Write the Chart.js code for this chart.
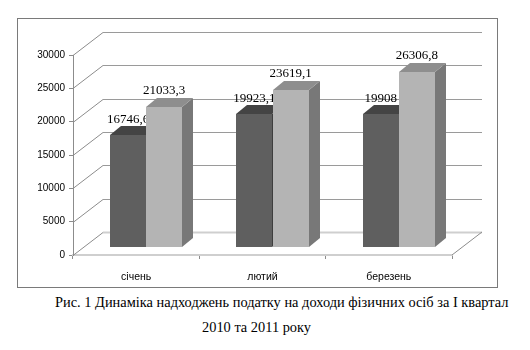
<!DOCTYPE html>
<html>
<head>
<meta charset="utf-8">
<script src="https://cdn.jsdelivr.net/npm/chart.js@4.4.1/dist/chart.umd.min.js"></script>
<style>
  body { margin: 0; background: #fff; width: 530px; height: 350px; position: relative; overflow: hidden; }
  #box { position: absolute; left: 17px; top: 18px; width: 479px; height: 268px; border: 1px solid #7a7a7a; }
  #box canvas { display: block; }
  .cap { position: absolute; font-family: "Liberation Serif", "Times New Roman", serif; font-size: 14.4px; color: #000; white-space: nowrap; }
</style>
</head>
<body>
<div id="box"><canvas id="chart" width="479" height="268"></canvas></div>
<div class="cap" style="left:55px; top:294px;">Рис. 1 Динаміка надходжень податку на доходи фізичних осіб за І квартал</div>
<div class="cap" style="left:202px; top:319px;">2010 та 2011 року</div>
<script>
// --- ДАНІ ---
const months = ['січень', 'лютий', 'березень'];
const values2010 = [16746.6, 19923.1, 19908];
const values2011 = [21033.3, 23619.1, 26306.8];
const yTicks = { min: 0, max: 30000, step: 5000 };

// --- 3D ОФОРМЛЕННЯ ---
const wallDepth = { dx: 30, dy: -23 };  // глибина стінок
const barShift = { dx: 10, dy: -8 };    // зсув передньої грані стовпчиків
const barDepth = { dx: 11, dy: -9 };    // товщина стовпчика
const faces = [
    { front: '#5f5f5f', top: '#444444', side: '#3e3e3e' },
    { front: '#b4b4b4', top: '#8e8e8e', side: '#787878' }
];

function fmt(v) {
    return String(v).replace('.', ',');
}

function poly(ctx, pts, color) {
    ctx.beginPath();
    ctx.moveTo(pts[0][0], pts[0][1]);
    for (let i = 1; i < pts.length; i++) ctx.lineTo(pts[i][0], pts[i][1]);
    ctx.closePath();
    ctx.fillStyle = color;
    ctx.fill();
}

function line(ctx, x0, y0, x1, y1, color, w) {
    ctx.beginPath();
    ctx.moveTo(x0, y0);
    ctx.lineTo(x1, y1);
    ctx.strokeStyle = color;
    ctx.lineWidth = w || 1;
    ctx.stroke();
}

const walls3d = {
    id: 'walls3d',
    beforeDatasetsDraw(chart) {
        const { ctx, chartArea: a, scales: { y } } = chart;
        ctx.save();
        // бічна стінка та задня стінка з лініями сітки
        y.ticks.forEach(t => {
            const py = Math.round(y.getPixelForValue(t.value)) + 0.5;
            line(ctx, a.left, py, a.left + wallDepth.dx, py + wallDepth.dy, '#8c8c8c');
            if (t.value === 0) {
                line(ctx, a.left + wallDepth.dx, py + wallDepth.dy, a.right + wallDepth.dx, py + wallDepth.dy, '#cfcfcf', 2);
            } else {
                line(ctx, a.left + wallDepth.dx, py + wallDepth.dy, a.right + wallDepth.dx, py + wallDepth.dy, '#9a9a9a');
            }
        });
        // підлога: права грань
        line(ctx, a.right, a.bottom, a.right + wallDepth.dx, a.bottom + wallDepth.dy, '#8c8c8c');
        ctx.restore();
    },
    beforeDatasetDraw() {
        return false;
    },
    afterDatasetsDraw(chart) {
        const { ctx } = chart;
        ctx.save();
        chart.data.datasets.forEach((ds, d) => {
            const meta = chart.getDatasetMeta(d);
            const f = faces[d];
            // стовпчики
            meta.data.forEach(bar => {
                const w = bar.width;
                const x0 = Math.round(bar.x - w / 2 + barShift.dx);
                const x1 = Math.round(x0 + w);
                const yt = Math.round(bar.y + barShift.dy);
                const yb = Math.round(bar.base + barShift.dy);
                poly(ctx, [[x1, yt], [x1 + barDepth.dx, yt + barDepth.dy], [x1 + barDepth.dx, yb + barDepth.dy], [x1, yb]], f.side);
                poly(ctx, [[x0, yt], [x1, yt], [x1 + barDepth.dx, yt + barDepth.dy], [x0 + barDepth.dx, yt + barDepth.dy]], f.top);
                ctx.fillStyle = f.front;
                ctx.fillRect(x0, yt, x1 - x0, yb - yt);
            });
            // підписи значень
            ctx.font = '13px "Liberation Serif", "Times New Roman", serif';
            ctx.fillStyle = '#000';
            ctx.textAlign = 'center';
            ctx.textBaseline = 'middle';
            meta.data.forEach((bar, i) => {
                ctx.fillText(fmt(ds.data[i]), bar.x + barShift.dx, bar.y + barShift.dy - 16);
            });
        });
        ctx.restore();
    }
};

new Chart(document.getElementById('chart'), {
    type: 'bar',
    data: {
        labels: months,
        datasets: [
            { label: '2010', data: values2010, backgroundColor: faces[0].front, categoryPercentage: 0.57, barPercentage: 1 },
            { label: '2011', data: values2011, backgroundColor: faces[1].front, categoryPercentage: 0.57, barPercentage: 1 }
        ]
    },
    options: {
        responsive: false,
        devicePixelRatio: 1,
        animation: false,
        layout: { padding: { top: 36, right: 45, left: 0, bottom: 0 } },
        plugins: { legend: { display: false }, tooltip: { enabled: false } },
        scales: {
            x: {
                afterFit: s => { s.height = 32; },
                grid: { offset: true, drawOnChartArea: false, tickLength: 4, color: '#8c8c8c' },
                border: { display: true, color: '#cfcfcf', width: 2 },
                ticks: { color: '#000', padding: 12, font: { family: '"Liberation Sans", Arial, sans-serif', size: 10.5 } }
            },
            y: {
                min: yTicks.min,
                max: yTicks.max,
                afterFit: s => { s.width = 55; },
                grid: { drawOnChartArea: false, tickLength: 4, color: '#8c8c8c' },
                border: { display: true, color: '#8c8c8c', width: 1 },
                ticks: { stepSize: yTicks.step, color: '#000', padding: 4, callback: v => String(v), font: { family: '"Liberation Sans", Arial, sans-serif', size: 10 } }
            }
        }
    },
    plugins: [walls3d]
});
</script>
</body>
</html>
